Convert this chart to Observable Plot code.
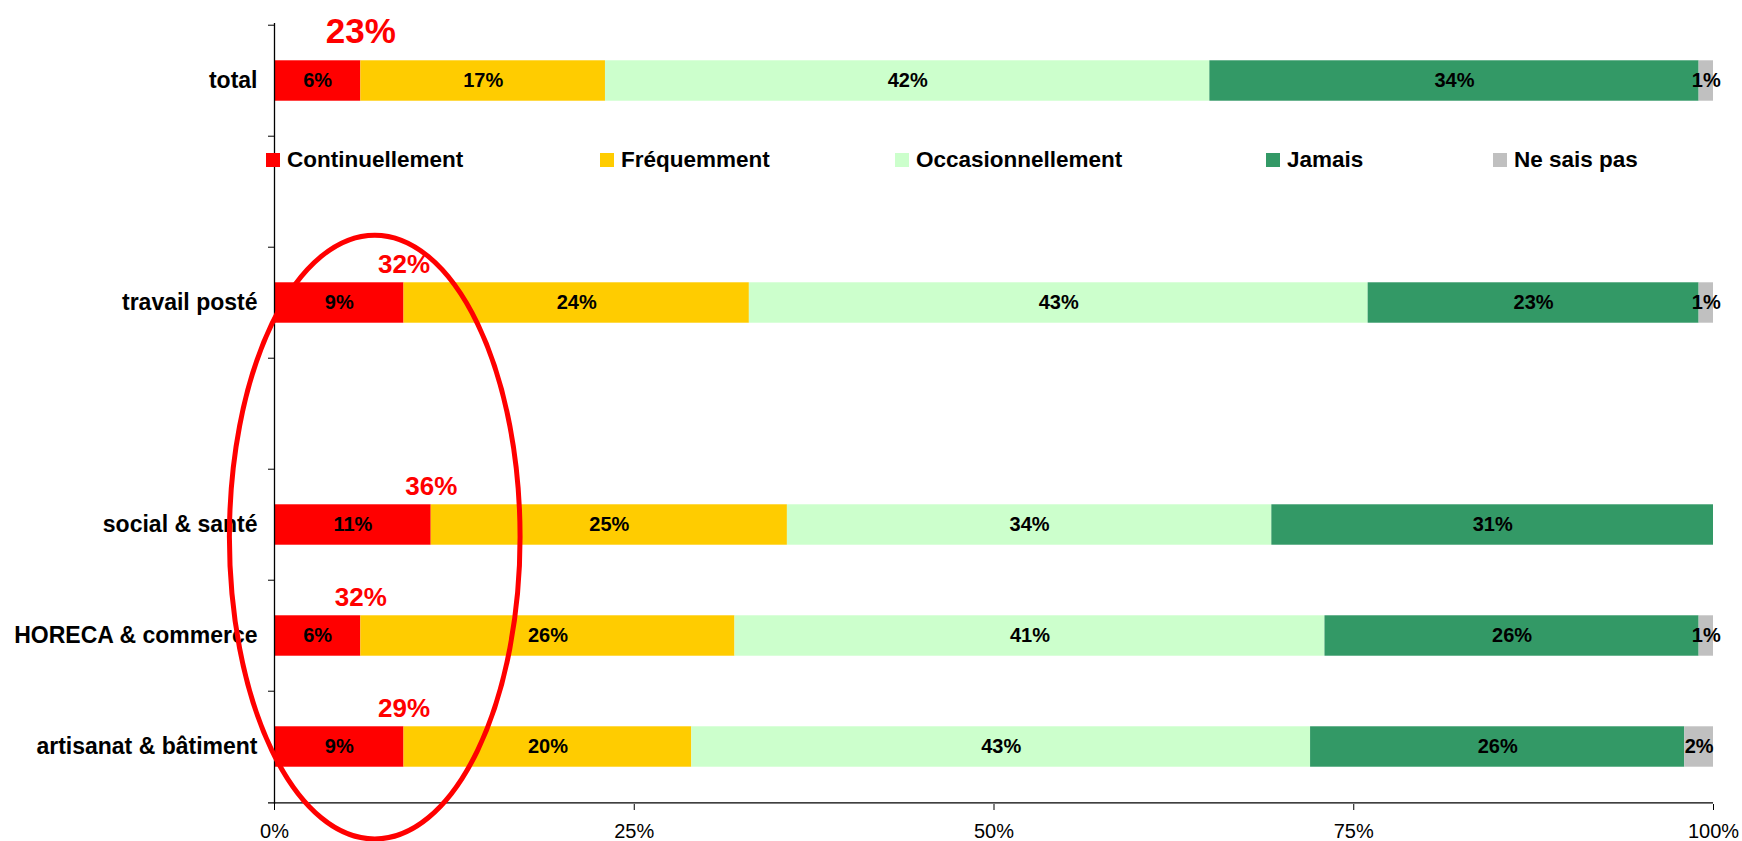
<!DOCTYPE html>
<html>
<head>
<meta charset="utf-8">
<script src="https://cdn.jsdelivr.net/npm/d3@7"></script>
<script src="https://cdn.jsdelivr.net/npm/@observablehq/plot@0.6"></script>
<style>
  html, body { margin: 0; padding: 0; background: #fff; }
  #wrap { position: relative; width: 1742px; height: 841px; font-family: "Liberation Sans", Arial, sans-serif; }
  #legend .item { position: absolute; display: flex; align-items: center; font-weight: bold; font-size: 22.5px; line-height: 26px; color: #000; white-space: nowrap; }
  #legend .sw { width: 14px; height: 14px; margin-right: 7px; }
</style>
</head>
<body>
<div id="wrap"><div id="legend"></div></div>
<script>
// ---- data ----
const categories = ["total", "travail posté", "social & santé", "HORECA & commerce", "artisanat & bâtiment"];
// y slots (two empty rows as in the original chart)
const slots = ["total", "", "travail posté", " ", "social & santé", "HORECA & commerce", "artisanat & bâtiment"];
const series = ["Continuellement", "Fréquemment", "Occasionnellement", "Jamais", "Ne sais pas"];
const colors = ["#FF0000", "#FFCC00", "#CCFFCC", "#339966", "#C0C0C0"];
const continuellement = [6, 9, 11, 6, 9];
const frequemment = [17, 24, 25, 26, 20];
const occasionnellement = [42, 43, 34, 41, 43];
const jamais = [34, 23, 31, 26, 26];
const neSaisPas = [1, 1, 0, 1, 2];
// highlighted "Continuellement + Fréquemment" annotations
const highlight = [23, 32, 36, 32, 29];
const xTicks = [0, 0.25, 0.5, 0.75, 1];
const xTickLabels = ["0%", "25%", "50%", "75%", "100%"];
// ellipse annotation, x extent in data units
const ellipseX = [-0.031, 0.171];

(function () {
  // ---- build table ----
  const seriesValues = [continuellement, frequemment, occasionnellement, jamais, neSaisPas];
  const rows = categories.flatMap((c, i) => series.map((s, j) => ({category: c, series: s, value: seriesValues[j][i]})));
  const hl = categories.map((c, i) => ({
    category: c,
    cont: continuellement[i],
    total: seriesValues.reduce((a, v) => a + v[i], 0),
    label: highlight[i] + "%"
  }));

  // ---- layout ----
  const W = 1742, H = 841;
  const mL = 274, mR = 29, mT = 23, mB = 37;
  const step = (H - mT - mB) / slots.length;
  const barH = 41;
  const inset = (step - barH) / 2;
  const font = '"Liberation Sans", Arial, sans-serif';

  const stackOpts = {x: "value", y: "category", z: "series", order: series, offset: "normalize"};

  const plot = Plot.plot({
    width: W,
    height: H,
    marginLeft: mL,
    marginRight: mR,
    marginTop: mT,
    marginBottom: mB,
    style: {fontFamily: font, background: "white", color: "black"},
    x: {domain: [0, 1]},
    y: {domain: slots, padding: 0},
    color: {domain: series, range: colors},
    marks: [
      Plot.barX(rows, Plot.stackX({...stackOpts, fill: "series", insetTop: inset, insetBottom: inset})),
      Plot.text(rows.filter(d => d.value > 0), Plot.stackX({...stackOpts, text: d => d.value + "%", fill: "black", fontWeight: "bold", fontSize: 20})),
      // highlight annotations
      Plot.text(hl.filter(d => d.category === "total"), {x: d => d.cont / d.total, y: "category", text: "label", fill: "#FF0000", fontWeight: "bold", fontSize: 35, dy: -49}),
      Plot.text(hl.filter(d => d.category !== "total"), {x: d => d.cont / d.total, y: "category", text: "label", fill: "#FF0000", fontWeight: "bold", fontSize: 26, dy: -38}),
      // axes
      Plot.axisX({ticks: xTicks, tickFormat: d => xTickLabels[xTicks.indexOf(d)], tickSize: 6, tickPadding: 13, fontSize: 20, label: null, stroke: "black"}),
      Plot.axisY({tickSize: 0, tickPadding: 17, fontSize: 23, fontWeight: "bold", label: null}),
      Plot.axisY({tickSize: 6, tickFormat: () => "", label: null, dy: -step / 2, stroke: "black"}),
      Plot.ruleX([0], {stroke: "black", strokeWidth: 1.3}),
      Plot.ruleY([slots[slots.length - 1]], {dy: step / 2, insetLeft: -6, stroke: "black", strokeWidth: 1.3})
    ]
  });

  // ellipse annotation drawn from the scales
  const xs = plot.scale("x");
  const ex0 = xs.apply(ellipseX[0]), ex1 = xs.apply(ellipseX[1]);
  const eTop = mT + slots.indexOf("travail posté") * step - 11;
  const eBottom = H - 2;
  d3.select(plot).append("ellipse")
    .attr("cx", (ex0 + ex1) / 2).attr("cy", (eTop + eBottom) / 2)
    .attr("rx", (ex1 - ex0) / 2).attr("ry", (eBottom - eTop) / 2)
    .attr("fill", "none").attr("stroke", "#FF0000").attr("stroke-width", 5);

  document.getElementById("wrap").prepend(plot);

  // legend (placed inside the plot area, as in the original)
  const legendLeft = [266, 600, 895, 1266, 1493];
  const legend = document.getElementById("legend");
  series.forEach((s, i) => {
    const item = document.createElement("div");
    item.className = "item";
    item.style.left = legendLeft[i] + "px";
    item.style.top = "147px";
    const sw = document.createElement("span");
    sw.className = "sw";
    sw.style.background = colors[i];
    const t = document.createElement("span");
    t.textContent = s;
    item.append(sw, t);
    legend.append(item);
  });
})();
</script>
</body>
</html>
